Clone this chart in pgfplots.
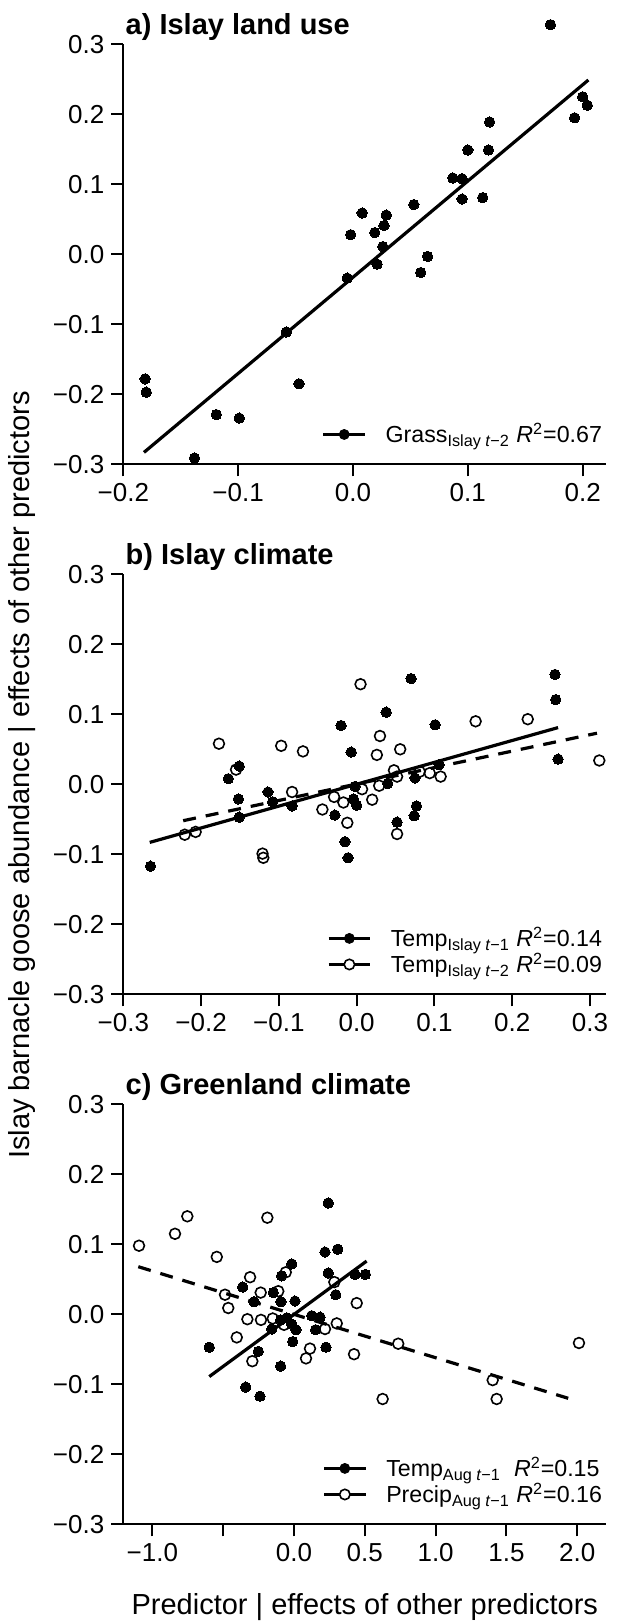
\documentclass[border=0pt]{standalone}
\usepackage{fontspec}
\setmainfont{Liberation Sans}
\usepackage{pgfplots}
\pgfplotsset{compat=1.18}
\usepackage{pgfplotstable}

% Panel a
\pgfplotstableread{
x y
0.172 0.328
0.200 0.225
0.204 0.213
0.193 0.195
0.119 0.189
0.100 0.149
0.118 0.149
0.087 0.109
0.095 0.108
0.095 0.079
0.113 0.081
0.053 0.071
0.008 0.059
0.029 0.056
0.027 0.041
-0.002 0.028
0.019 0.031
0.026 0.011
0.021 -0.014
0.065 -0.003
0.059 -0.026
-0.005 -0.034
-0.058 -0.111
-0.181 -0.178
-0.180 -0.197
-0.047 -0.185
-0.119 -0.229
-0.099 -0.234
-0.138 -0.291
}\dataA

% Panel b, Temp Islay t-1 (filled)
\pgfplotstableread{
x y
-0.265 -0.117
-0.165 0.008
-0.151 0.026
-0.152 -0.021
-0.151 -0.047
-0.114 -0.011
-0.108 -0.025
-0.083 -0.031
-0.020 0.084
-0.007 0.046
-0.002 -0.003
-0.004 -0.021
0.000 -0.030
-0.028 -0.044
-0.015 -0.082
-0.011 -0.105
0.038 0.103
0.070 0.151
0.040 0.001
0.052 -0.054
0.075 0.009
0.077 -0.031
0.074 -0.045
0.101 0.085
0.106 0.028
0.255 0.157
0.256 0.121
0.259 0.036
}\dataBf

% Panel b, Temp Islay t-2 (open)
\pgfplotstableread{
x y
-0.221 -0.072
-0.207 -0.068
-0.177 0.058
-0.155 0.021
-0.121 -0.099
-0.120 -0.105
-0.097 0.055
-0.069 0.047
-0.083 -0.011
-0.044 -0.036
-0.029 -0.018
-0.017 -0.026
-0.012 -0.055
0.005 0.143
0.007 -0.007
0.020 -0.022
0.029 -0.002
0.026 0.042
0.030 0.069
0.056 0.050
0.048 0.020
0.052 0.011
0.052 -0.071
0.081 0.018
0.094 0.016
0.108 0.011
0.153 0.090
0.220 0.093
0.312 0.034
}\dataBo

% Panel c, Temp Aug t-1 (filled)
\pgfplotstableread{
x y
-0.598 -0.047
-0.362 0.039
-0.282 0.018
-0.252 -0.053
-0.341 -0.104
-0.240 -0.117
-0.146 0.031
-0.087 0.055
-0.016 0.072
-0.092 0.018
0.007 0.019
-0.157 -0.021
-0.094 -0.074
-0.051 -0.005
-0.094 -0.008
-0.016 -0.014
0.014 -0.022
-0.009 -0.039
0.125 -0.002
0.184 -0.004
0.153 -0.022
0.226 -0.047
0.242 0.159
0.219 0.089
0.309 0.093
0.242 0.059
0.295 0.028
0.431 0.057
0.504 0.057
}\dataCf

% Panel c, Precip Aug t-1 (open)
\pgfplotstableread{
x y
-1.094 0.098
-0.840 0.115
-0.753 0.140
-0.545 0.082
-0.188 0.138
-0.487 0.028
-0.464 0.009
-0.404 -0.033
-0.310 0.053
-0.329 -0.007
-0.235 0.031
-0.233 -0.008
-0.150 -0.006
-0.111 0.033
-0.058 0.060
-0.070 -0.015
-0.294 -0.067
0.113 -0.049
0.085 -0.063
0.219 -0.021
0.285 0.046
0.302 -0.013
0.443 0.016
0.424 -0.057
0.736 -0.042
0.626 -0.121
1.403 -0.094
1.431 -0.121
2.012 -0.041
}\dataCo

\pgfplotsset{
  panel/.style={
    scale only axis, width=241.5pt, height=210pt, anchor=south west,
    axis x line*=bottom, axis y line*=left,
    axis line style={line width=1pt, black},
    tick align=outside, major tick length=6pt,
    every tick/.style={line width=1pt, black},
    ymin=-0.3, ymax=0.3,
    ytick={-0.3,-0.2,-0.1,0,0.1,0.2,0.3},
    yticklabels={−0.3,−0.2,−0.1,0.0,0.1,0.2,0.3},
    tick label style={font=\fontsize{13}{15}\selectfont},
    clip=false,
    legend cell align=left,
    legend style={draw=none, fill=none, inner sep=0pt, outer sep=0pt,
      at={(rel axis cs:0.991,0.0436)}, anchor=south east,
      font=\fontsize{11.6}{14}\selectfont, row sep=1.5pt,
      nodes={inner sep=0pt},
      /tikz/every odd column/.style={column sep=9.5pt}},
  },
  filled/.style={only marks, mark=*, mark size=2.6pt, black,
    mark options={fill=black, draw=black, line width=0pt},
    legend image code/.code={
      \draw[line width=1.6pt, black] (0pt,0pt) -- (20.8pt,0pt);
      \fill[black] (10.4pt,0pt) circle (2.5pt);}},
  open/.style={only marks, mark=o, mark size=2.7pt, black,
    mark options={line width=0.8pt},
    legend image code/.code={
      \draw[line width=1.6pt, black] (0pt,0pt) -- (20.8pt,0pt);
      \draw[line width=0.8pt, black, fill=white] (10.4pt,0pt) circle (2.6pt);}},
  fit/.style={line width=1.6pt, black, forget plot, no marks},
  fitdash/.style={line width=1.6pt, black, forget plot, no marks, dash pattern=on 6.5pt off 5pt},
}

\begin{document}
\begin{tikzpicture}
% ---------------- Panel a ----------------
\begin{axis}[panel, at={(61.65pt,579.85pt)},
  xmin=-0.2, xmax=0.2206,
  xtick={-0.2,-0.1,0,0.1,0.2},
  xticklabels={−0.2,−0.1,0.0,0.1,0.2}]
\addplot[filled] table[x=x,y=y] {\dataA};
\addlegendentry{Grass\textsubscript{Islay \textit{t}−2} \textit{R}\textsuperscript{2}=0.67}
\addplot[fit] coordinates {(-0.182,-0.283) (0.205,0.249)};
\node[anchor=base west, inner sep=0pt, yshift=5pt, xshift=1pt,
  font=\bfseries\fontsize{14.5}{17}\selectfont] at (rel axis cs:0,1) {a) Islay land use};
\end{axis}

% ---------------- Panel b ----------------
\begin{axis}[panel, at={(61.65pt,314.85pt)},
  xmin=-0.3, xmax=0.321,
  xtick={-0.3,-0.2,-0.1,0,0.1,0.2,0.3},
  xticklabels={−0.3,−0.2,−0.1,0.0,0.1,0.2,0.3}]
\addplot[filled] table[x=x,y=y] {\dataBf};
\addlegendentry{Temp\textsubscript{Islay \textit{t}−1} \textit{R}\textsuperscript{2}=0.14}
\addplot[open] table[x=x,y=y] {\dataBo};
\addlegendentry{Temp\textsubscript{Islay \textit{t}−2} \textit{R}\textsuperscript{2}=0.09}
\addplot[fit] coordinates {(-0.266,-0.083) (0.259,0.081)};
\addplot[fitdash] coordinates {(-0.223,-0.052) (0.309,0.073)};
\node[anchor=base west, inner sep=0pt, yshift=5pt, xshift=1pt,
  font=\bfseries\fontsize{14.5}{17}\selectfont] at (rel axis cs:0,1) {b) Islay climate};
\end{axis}

% ---------------- Panel c ----------------
\begin{axis}[panel, at={(61.65pt,49.85pt)},
  xmin=-1.205, xmax=2.205,
  xtick={-1,-0.5,0,0.5,1,1.5,2},
  xticklabels={−1.0,{},0.0,0.5,1.0,1.5,2.0}]
\addplot[filled] table[x=x,y=y] {\dataCf};
\addlegendentry{Temp\textsubscript{Aug \textit{t}−1}\hspace{3.3pt} \textit{R}\textsuperscript{2}=0.15}
\addplot[open] table[x=x,y=y] {\dataCo};
\addlegendentry{Precip\textsubscript{Aug \textit{t}−1} \textit{R}\textsuperscript{2}=0.16}
\addplot[fit] coordinates {(-0.598,-0.089) (0.513,0.076)};
\addplot[fitdash] coordinates {(-1.099,0.068) (1.936,-0.120)};
\node[anchor=base west, inner sep=0pt, yshift=5pt, xshift=1pt,
  font=\bfseries\fontsize{14.5}{17}\selectfont] at (rel axis cs:0,1) {c) Greenland climate};
\node[anchor=base, inner sep=0pt, yshift=-44.85pt,
  font=\fontsize{14.5}{17}\selectfont] at (rel axis cs:0.5,0) {Predictor | effects of other predictors};
\end{axis}

\node[rotate=90, inner sep=0pt, font=\fontsize{14.5}{17}\selectfont]
  at (11pt,424.5pt) {Islay barnacle goose abundance | effects of other predictors};

\pgfresetboundingbox
\path[use as bounding box] (0pt,0pt) rectangle (309.5pt,812pt);
\end{tikzpicture}
\end{document}
